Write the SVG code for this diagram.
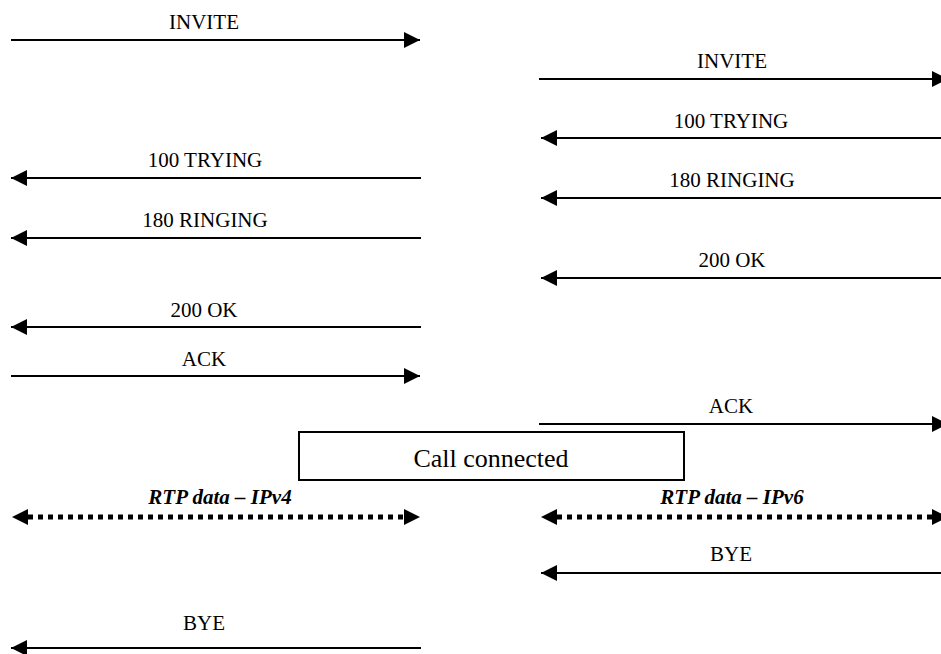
<svg xmlns="http://www.w3.org/2000/svg" width="941" height="654" viewBox="0 0 941 654">
<defs>
<style>
.msg{stroke:#000;stroke-width:2;fill:none}
.dot{stroke:#000;stroke-width:5;fill:none;stroke-dasharray:5 5}
.lbl{font-family:'Liberation Serif','Times New Roman','DejaVu Serif',serif;font-size:21px;fill:#000;text-anchor:middle}
.it{font-style:italic;font-weight:bold}
.box{fill:#fff;stroke:#000;stroke-width:2}
.boxt{font-family:'Liberation Serif','Times New Roman','DejaVu Serif',serif;font-size:26px;fill:#000;text-anchor:middle}
</style>
<marker id="ah" markerUnits="userSpaceOnUse" markerWidth="16" markerHeight="16" viewBox="0 0 16 16" refX="16" refY="8" orient="auto-start-reverse">
<path d="M0,0 L16,8 L0,16 Z" fill="#000"/>
</marker>
</defs>
<g id="connectors">
<line class="msg" x1="11" y1="40" x2="420" y2="40" marker-end="url(#ah)"/>
<line class="msg" x1="539" y1="79" x2="948" y2="79" marker-end="url(#ah)"/>
<line class="msg" x1="941" y1="138" x2="541" y2="138" marker-end="url(#ah)"/>
<line class="msg" x1="421" y1="178" x2="11" y2="178" marker-end="url(#ah)"/>
<line class="msg" x1="941" y1="198" x2="541" y2="198" marker-end="url(#ah)"/>
<line class="msg" x1="421" y1="238" x2="11" y2="238" marker-end="url(#ah)"/>
<line class="msg" x1="941" y1="278" x2="541" y2="278" marker-end="url(#ah)"/>
<line class="msg" x1="421" y1="327" x2="11" y2="327" marker-end="url(#ah)"/>
<line class="msg" x1="11" y1="376" x2="420" y2="376" marker-end="url(#ah)"/>
<line class="msg" x1="539" y1="424" x2="948" y2="424" marker-end="url(#ah)"/>
<line class="dot" x1="28" y1="517" x2="404" y2="517"/>
<path d="M12,517 L28,509 L28,525 Z M420,517 L404,509 L404,525 Z"/>
<line class="dot" x1="557" y1="517" x2="933" y2="517"/>
<path d="M541,517 L557,509 L557,525 Z M948,517 L932,509 L932,525 Z"/>
<line class="msg" x1="941" y1="573" x2="541" y2="573" marker-end="url(#ah)"/>
<line class="msg" x1="421" y1="648" x2="11" y2="648" marker-end="url(#ah)"/>
</g>
<g id="labels" font-family="'Liberation Serif', 'Times New Roman', serif">
<text class="lbl" x="204" y="29">INVITE</text>
<text class="lbl" x="732" y="68">INVITE</text>
<text class="lbl" x="731" y="128">100 TRYING</text>
<text class="lbl" x="205" y="167">100 TRYING</text>
<text class="lbl" x="732" y="187">180 RINGING</text>
<text class="lbl" x="205" y="227">180 RINGING</text>
<text class="lbl" x="732" y="267">200 OK</text>
<text class="lbl" x="204" y="317">200 OK</text>
<text class="lbl" x="204" y="366">ACK</text>
<text class="lbl" x="731" y="413">ACK</text>
<text class="lbl it" x="220" y="504">RTP data – IPv4</text>
<text class="lbl it" x="732" y="504">RTP data – IPv6</text>
<text class="lbl" x="731" y="561">BYE</text>
<text class="lbl" x="204" y="630">BYE</text>
</g>
<g id="call-connected">
<rect class="box" x="299" y="432" width="385" height="48"/>
<text class="boxt" x="491" y="467">Call connected</text>
</g>
</svg>
